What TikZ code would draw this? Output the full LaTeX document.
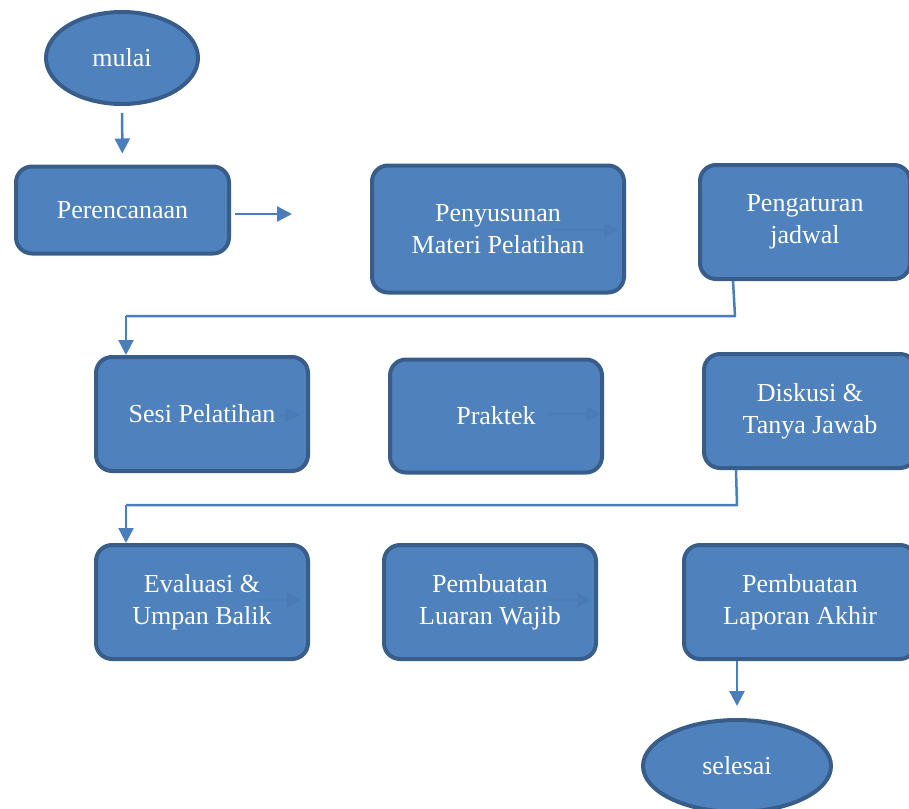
\documentclass[tikz,border=0pt]{standalone}
\usepackage{fontspec}
\setmainfont{Liberation Serif}
\usetikzlibrary{shapes.geometric,arrows.meta}
\definecolor{boxfill}{HTML}{4F81BD}
\definecolor{boxline}{HTML}{385D8A}
\definecolor{arrowline}{HTML}{4A7EBB}
\begin{document}
\begin{tikzpicture}[x=1pt, y=-1pt, line join=round, >={Triangle[length=15pt,width=15pt]}]
\tikzset{every node/.style={font=\fontsize{26}{32}\selectfont, text=white, align=center},
  proc/.style={draw=boxline, fill=boxfill, line width=4pt, rounded corners=16pt, inner sep=0pt},
  term/.style={ellipse, draw=boxline, fill=boxfill, line width=4pt, inner sep=0pt},
  link/.style={draw=arrowline, line width=2.5pt},
  faint/.style={draw=arrowline!90!black, line width=2.5pt, opacity=0.22}}
\useasboundingbox (0,0) rectangle (909,808);
\node[term, minimum width=152pt, minimum height=92pt] (mulai) at (122,58) {mulai};
\node[proc, minimum width=213pt, minimum height=87pt] (plan) at (122.5,210) {Perencanaan};
\node[proc, minimum width=252pt, minimum height=127pt] (susun) at (498,229) {Penyusunan\\Materi Pelatihan};
\node[proc, minimum width=210pt, minimum height=114pt] (jadwal) at (805,222) {Pengaturan\\jadwal};
\node[proc, minimum width=212pt, minimum height=114pt] (sesi) at (202,414) {Sesi Pelatihan};
\node[proc, minimum width=212pt, minimum height=113pt] (praktek) at (496,416) {Praktek};
\node[proc, minimum width=212pt, minimum height=114pt] (diskusi) at (810,411) {Diskusi \&\\Tanya Jawab};
\node[proc, minimum width=212pt, minimum height=114pt] (evaluasi) at (202,602) {Evaluasi \&\\Umpan Balik};
\node[proc, minimum width=212pt, minimum height=114pt] (luaran) at (490,602) {Pembuatan\\Luaran Wajib};
\node[proc, minimum width=232pt, minimum height=114pt] (laporan) at (800,602) {Pembuatan\\Laporan Akhir};
\node[term, minimum width=188pt, minimum height=92pt] (selesai) at (737,766) {selesai};
\coordinate (p1) at (292,214);
\coordinate (k1) at (735,316);
\coordinate (k2) at (126,316);
\coordinate (m1) at (737,505);
\coordinate (m2) at (126,505);
\draw[link,->, shorten <=7pt, shorten >=11pt] (mulai) -- (plan);
\draw[link,->] ([shift={(4,4)}]plan.east) -- (p1);
\draw[faint,->] ([shift={(-74,1)}]susun.east) -- ([shift={(-7,1)}]susun.east);
\draw[link] ([xshift=-72pt]jadwal.south) -- (k1) -- (k2);
\draw[link,->] (k2) -- (k2 |- sesi.north);
\draw[faint,->] ([shift={(-30,1)}]sesi.east) -- ([shift={(-10,1)}]sesi.east);
\draw[faint,->] ([shift={(-56,-2)}]praktek.east) -- ([shift={(-3,-2)}]praktek.east);
\draw[link] ([xshift=-74pt]diskusi.south) -- (m1) -- (m2);
\draw[link,->] (m2) -- (m2 |- evaluasi.north);
\draw[faint,->] ([shift={(-53,-2)}]evaluasi.east) -- ([shift={(-8,-2)}]evaluasi.east);
\draw[faint,->] ([shift={(-51,-2)}]luaran.east) -- ([shift={(-6,-2)}]luaran.east);
\draw[link,->, shorten >=12pt] (selesai.north |- laporan.south) -- (selesai.north);
\end{tikzpicture}
\end{document}
